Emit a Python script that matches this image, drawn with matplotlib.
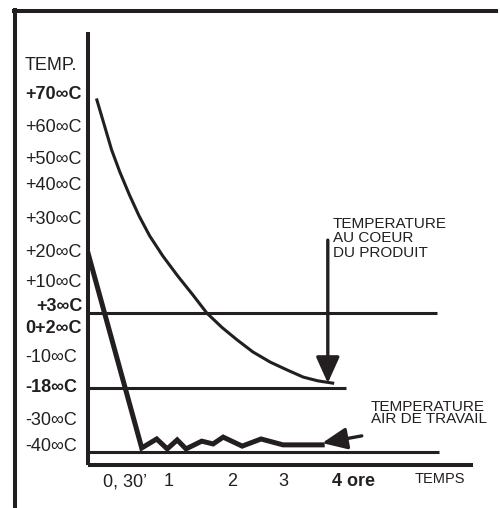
import numpy as np
import matplotlib.pyplot as plt
import matplotlib.transforms as mtransforms
from matplotlib.lines import Line2D

plt.rcParams['font.family'] = ['Liberation Sans', 'DejaVu Sans']

INK = '#231f20'

# printed temperature scale (deg C) and time scale (hours)
temp_ticks = [70, 60, 50, 40, 30, 20, 10, 3, 2, -10, -18, -30, -40]
temp_labels = ['+70∞C', '+60∞C', '+50∞C', '+40∞C', '+30∞C', '+20∞C', '+10∞C',
               '+3∞C', '0+2∞C', '-10∞C', '-18∞C', '-30∞C', '-40∞C']
temp_bold = [70, 3, 2, -18]
time_ticks = [0.5, 1, 2, 3, 4]
time_labels = ['0, 30’', '1', '2', '3', '4 ore']

# product core temperature
core_time = [0.12, 0.22, 0.32, 0.43, 0.55, 0.66, 0.78, 0.93, 1.14, 1.38, 1.60,
             1.84, 2.10, 2.41, 2.75, 3.06, 3.29, 3.50, 3.71]
core_temp = [68.5, 60.9, 53.1, 45.4, 37.4, 31.2, 25.2, 19.0, 12.3, 7.2, 3.0,
             2.1, -2.5, -7.5, -11.1, -13.2, -15.1, -16.1, -16.7]

# working air temperature
air_time = [0.0, 0.69, 0.86, 0.98, 1.13, 1.27, 1.52, 1.70, 1.86, 2.20, 2.57,
            3.0, 3.56]
air_temp = [20, -38.7, -35.8, -39.0, -36.1, -39.0, -36.5, -37.4, -35.2, -38.1,
            -35.8, -37.7, -37.7]

# holding levels drawn across the chart
level_temp = [3, -18, -40]
level_end = [5.05, 3.9, 5.08]

# the drawing is not to scale: piecewise axis spacing as printed
t_knots = [0, 0.5, 1, 2, 3, 4, 5.5]
t_pos = [88, 125, 169, 232, 283, 353, 473]
y_knots = [-45, -40, -30, -18, -10, 2, 3, 10, 20, 30, 40, 50, 60, 70, 85]
y_pos = [-465, -452, -421, -388, -358, -329, -313, -283, -253, -220, -186,
         -160, -128, -95, -32]


def t_fwd(v):
    return np.interp(v, t_knots, t_pos)


def t_inv(v):
    return np.interp(v, t_pos, t_knots)


def y_fwd(v):
    return np.interp(v, y_knots, y_pos)


def y_inv(v):
    return np.interp(v, y_pos, y_knots)


fig = plt.figure(figsize=(5.0, 5.08), dpi=100)
ax = fig.add_axes([88 / 500, 43 / 508, 385 / 500, 433 / 508])
ax.set_xscale('function', functions=(t_fwd, t_inv))
ax.set_yscale('function', functions=(y_fwd, y_inv))
ax.set_xlim(0, 5.5)
ax.set_ylim(-45, 85)

for s in ['top', 'right']:
    ax.spines[s].set_visible(False)
for s in ['left', 'bottom']:
    ax.spines[s].set_linewidth(2.9)
    ax.spines[s].set_color(INK)
    ax.spines[s].set_capstyle('butt')

# outer frame (left and top edges)
fig.add_artist(Line2D([0.030, 0.030], [0.0, 0.980], color=INK, lw=2.9,
                      transform=fig.transFigure))
fig.add_artist(Line2D([0.027, 0.992], [0.978, 0.978], color=INK, lw=2.9,
                      transform=fig.transFigure))

# holding levels
for lv, end in zip(level_temp, level_end):
    ax.plot([0, end], [lv, lv], color=INK, lw=2.2, solid_capstyle='butt')

ax.plot(core_time, core_temp, color=INK, lw=2.2)
ax.plot(air_time, air_temp, color=INK, lw=3.6, solid_joinstyle='miter')

# arrows
ax.annotate('', xy=(3.64, -16.7), xytext=(3.64, 23.9),
            arrowprops=dict(arrowstyle='-|>,head_length=0.8,head_width=0.36',
                            mutation_scale=20, lw=2.4, color=INK,
                            shrinkA=0, shrinkB=0))
ax.annotate('', xy=(3.56, -37.1), xytext=(4.11, -34.8),
            arrowprops=dict(arrowstyle='-|>,head_length=0.75,head_width=0.33',
                            mutation_scale=20, lw=2.4, color=INK,
                            shrinkA=0, shrinkB=0))

ax.text(3.71, 30.8, 'TEMPERATURE\nAU COEUR\nDU PRODUIT', fontsize=11,
        color=INK, ha='left', va='top', linespacing=1.02)
ax.text(4.225, -22.4, 'TEMPERATURE\nAIR DE TRAVAIL', fontsize=11,
        color=INK, ha='left', va='top', linespacing=0.85)

# y labels, left aligned outside the axis
ax.set_yticks([])
blend = mtransforms.blended_transform_factory(fig.transFigure, ax.transData)
label_nudge = {3: (11, 6), -40: (0, 5)}
for tv, lab in zip(temp_ticks, temp_labels):
    dx, dy = label_nudge.get(tv, (0, 0))
    ax.annotate(lab, xy=(25 / 500, tv), xycoords=blend, xytext=(dx, dy),
                textcoords='offset pixels', ha='left', va='center',
                fontsize=13, color=INK,
                fontweight='bold' if tv in temp_bold else 'normal')
fig.text(25 / 500, 1 - 65 / 508, 'TEMP.', fontsize=13, color=INK,
         ha='left', va='center')

# x labels
ax.set_xticks(time_ticks)
ax.set_xticklabels(time_labels, fontsize=13, color=INK)
ax.tick_params(axis='x', length=0, pad=6)
ax.get_xticklabels()[-1].set_fontweight('bold')
ax.annotate('TEMPS', xy=(5.09, 0), xycoords=('data', 'axes fraction'),
            xytext=(0, -14), textcoords='offset pixels', ha='center',
            va='center', fontsize=10.5, color=INK)

fig.savefig('out.png', dpi=100)
